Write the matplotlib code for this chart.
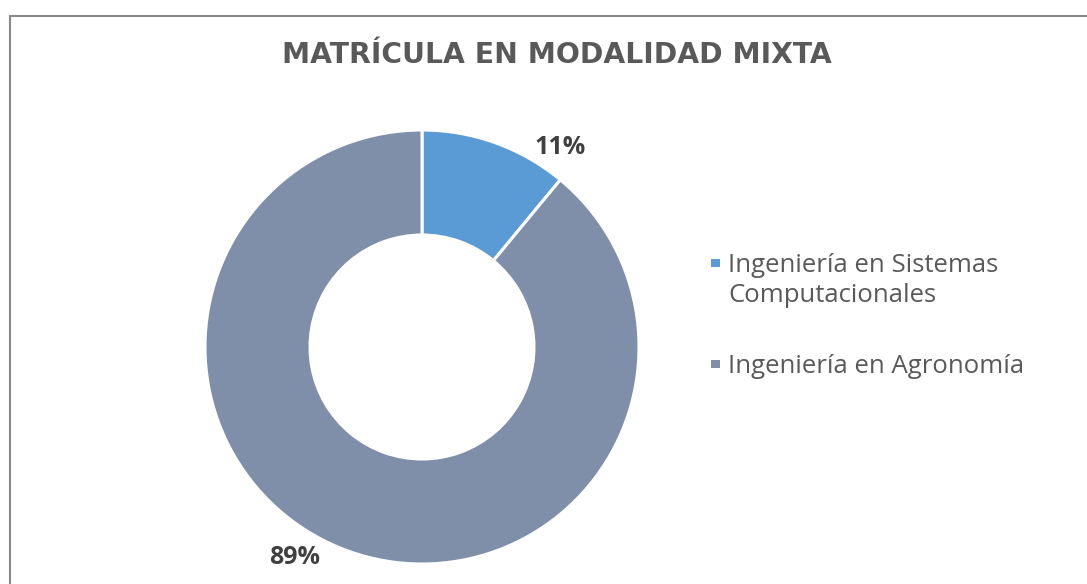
import textwrap
import matplotlib
matplotlib.use("Agg")
import matplotlib.pyplot as plt
from matplotlib.patches import Rectangle

categories = ["Ingeniería en Sistemas Computacionales", "Ingeniería en Agronomía"]
values = [11, 89]
pct_labels = ["11%", "89%"]
colors = ["#5B9BD5", "#7F8EA9"]
title = "MATRÍCULA EN MODALIDAD MIXTA"

W, H = 1087, 584
fig = plt.figure(figsize=(W / 100, H / 100), dpi=100)
fig.patch.set_facecolor("white")

# outer border (extends past right/bottom like the reference)
fig.add_artist(Rectangle((9.5 / W, -0.05), 1.2, (H - 15.5) / H + 0.05,
                         transform=fig.transFigure, fill=False,
                         edgecolor="#898989", linewidth=1.5))

fig.text(557 / W, 1 - 55 / H, title, ha="center", va="center",
         fontsize=20.3, fontweight="bold", color="#595959", family="DejaVu Sans")

cx, cy, r = 422, 584 - 347, 217
ax = fig.add_axes([(cx - r) / W, (cy - r) / H, 2 * r / W, 2 * r / H])
wedges, _ = ax.pie(values, colors=colors, startangle=90, counterclock=False,
                   radius=1.0,
                   wedgeprops=dict(width=1 - 112 / 217, edgecolor="white",
                                   linewidth=2.2))
ax.set_xlim(-1, 1)
ax.set_ylim(-1, 1)
ax.set_aspect("equal")
ax.axis("off")

label_pos = [(0.636, 0.918), (-0.585, -0.97)]
for (x, y), t in zip(label_pos, pct_labels):
    ax.text(x, y, t, ha="center", va="center", fontsize=18,
            fontweight="bold", color="#404040", family="Open Sans",
            clip_on=False)

# legend (keys aligned with first line of each entry, as in the reference)
first_baselines = [272, 373]
line_step = 30
for c, cat, yb in zip(colors, categories, first_baselines):
    lines = textwrap.wrap(cat, 23)
    fig.add_artist(Rectangle((711 / W, 1 - (yb - 5) / H), 8.5 / W, 8.5 / H,
                             transform=fig.transFigure, facecolor=c,
                             edgecolor="none"))
    for i, ln in enumerate(lines):
        fig.text(728 / W, 1 - (yb + i * line_step) / H, ln, ha="left",
                 va="baseline", fontsize=18.5, family="Open Sans",
                 color="#595959")

fig.savefig("out.png", dpi=100, facecolor="white")
